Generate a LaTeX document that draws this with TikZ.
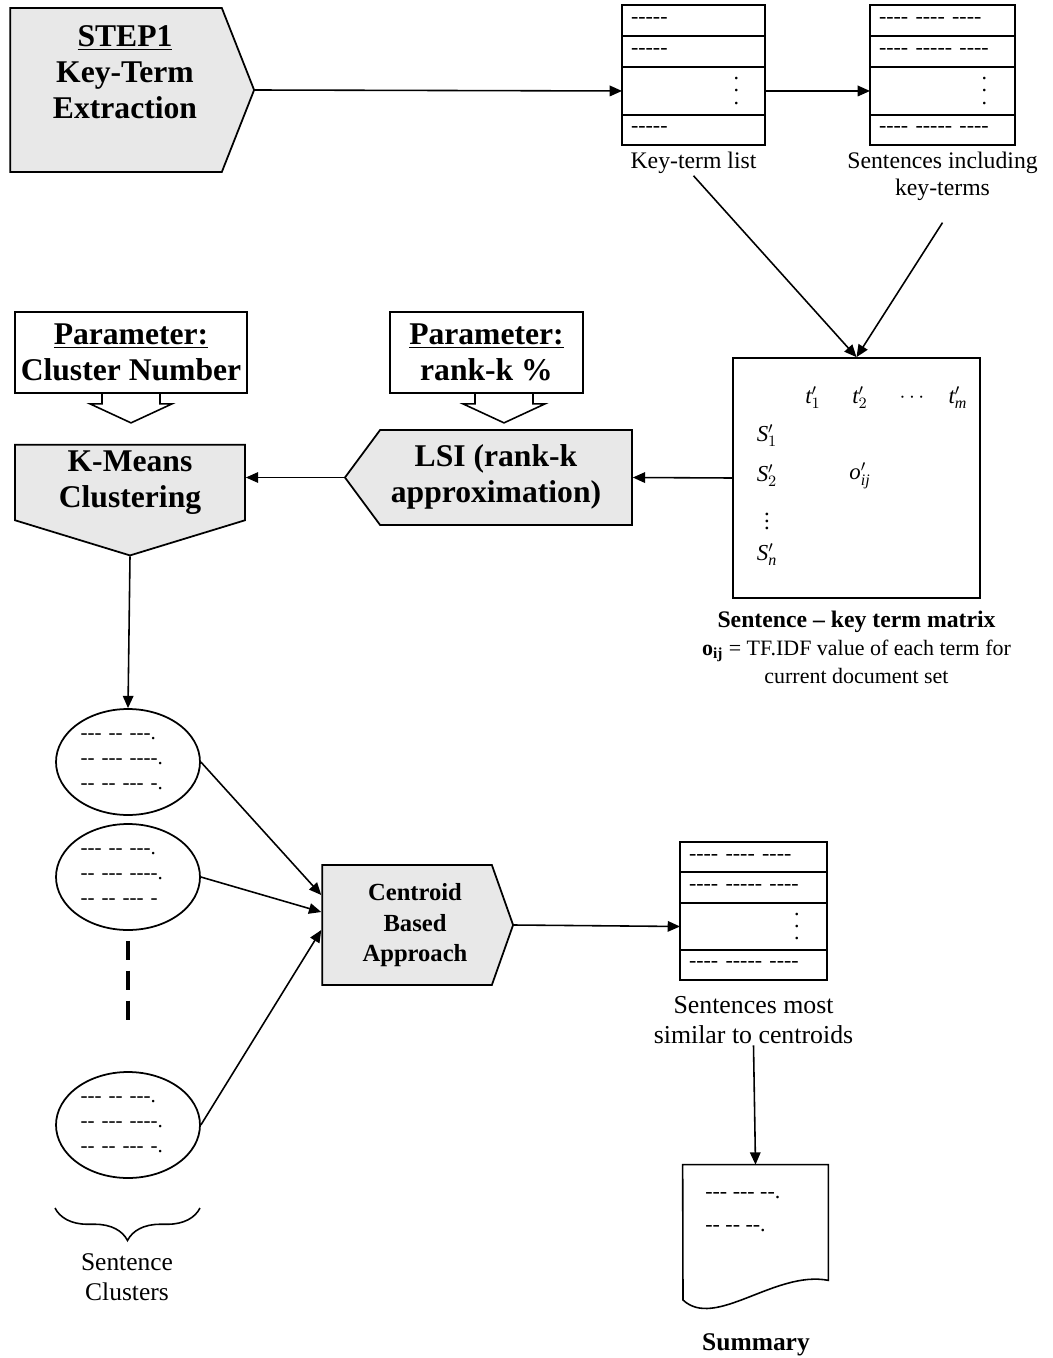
\documentclass[tikz,border=0pt]{standalone}
\usepackage{fontspec}
\setmainfont{Liberation Serif}
\newfontfamily\dashfont{Liberation Serif}[Ligatures=TeXOff]
\usepackage{tikz}
\usetikzlibrary{arrows.meta, positioning, shapes.geometric, shapes.symbols, decorations.pathreplacing}
\definecolor{ProcGray}{HTML}{E8E8E8}
\newcommand{\bigvdots}{\vbox{\baselineskip7pt\lineskiplimit0pt\hbox{.}\hbox{.}\hbox{.}}}

\begin{document}
\begin{tikzpicture}[x=0.02cm, y=-0.02cm,
    proc/.style={shape=signal, draw, fill=ProcGray, line width=1pt, inner sep=1pt, font=\fontsize{18}{20.5}\selectfont\bfseries},
    param/.style={draw, line width=1pt, align=center, inner sep=1pt, minimum height=1.62cm, font=\fontsize{18}{20.5}\selectfont\bfseries},
    cell/.style={draw, line width=1pt, outer sep=0pt, inner xsep=0.18cm, inner ysep=0pt, align=left, font=\dashfont\fontsize{12.5}{14}\selectfont},
    clus/.style={ellipse, draw, line width=1pt, minimum width=2.88cm, minimum height=2.12cm, inner sep=0pt, text width=1.9cm, align=left, font=\dashfont\fontsize{12}{14.2}\selectfont},
    captxt/.style={align=center, inner sep=1pt, fill=white, font=\fontsize{13.5}{15.3}\selectfont},
    mel/.style={inner sep=0pt, font=\fontsize{13}{15}\selectfont},
    arr/.style={-{Triangle[length=7pt, width=6pt]}, line width=0.9pt},
    ln/.style={line width=0.9pt}
]
\useasboundingbox (0,0) rectangle (1053,1358);

% Step 1
\node[proc, signal to=east, signal pointer angle=137, minimum width=4.88cm, minimum height=3.28cm] (step1) at (116,90)
  {\hspace*{0.36cm}\begin{tabular}{@{}c@{}}\underline{STEP1}\\Key-Term\\Extraction\\[-4pt]{}\end{tabular}};

% Key-term list
\node[cell, text width=2.5cm, minimum height=0.62cm] (kl1) at (693.5,20.5) {-----};
\node[cell, text width=2.5cm, minimum height=0.62cm, below=0pt of kl1] (kl2) {-----};
\node[cell, text width=2.5cm, minimum height=0.96cm, below=0pt of kl2] (kl3) {\hspace*{2.05cm}\bigvdots};
\node[cell, text width=2.5cm, minimum height=0.6cm, below=0pt of kl3] (kl4) {-----};
\node[captxt, below=0.1cm of kl4] (kcap) {Key-term list};

% Sentences including key-terms
\node[cell, text width=2.54cm, minimum height=0.62cm] (sl1) at (942.5,20.5) {---- ---- ----};
\node[cell, text width=2.54cm, minimum height=0.62cm, below=0pt of sl1] (sl2) {---- ----- ----};
\node[cell, text width=2.54cm, minimum height=0.96cm, below=0pt of sl2] (sl3) {\hspace*{2.05cm}\bigvdots};
\node[cell, text width=2.54cm, minimum height=0.6cm, below=0pt of sl3] (sl4) {---- ----- ----};
\node[captxt, below=0.1cm of sl4] (scap) {Sentences including\\key-terms};

\draw[arr] (step1.east) -- (kl3.west);
\draw[arr] (kl3.east) -- (sl3.west);

% Sentence - key term matrix
\node[draw, line width=1pt, minimum width=4.94cm, minimum height=4.8cm] (mat) at (856.5,478) {};
\node[mel] (t1) at (813,398) {$\mathit{t}_{1}^{\prime}$};
\node[mel] (t2) at (860,398) {$\mathit{t}_{2}^{\prime}$};
\node[mel] (tdots) at (912,398) {$\cdots$};
\node[mel] (tm) at (958,398) {$\mathit{t}_{\mathit{m}}^{\prime}$};
\node[mel] (s1) at (767,436) {$\mathit{S}_{1}^{\prime}$};
\node[mel] (s2) at (767,476) {$\mathit{S}_{2}^{\prime}$};
\node[mel] (sdots) at (767,516) {$\vdots$};
\node[mel] (sn) at (767,555) {$\mathit{S}_{\mathit{n}}^{\prime}$};
\node[mel] (oij) at (860,476) {$\mathit{o}_{\mathit{ij}}^{\prime}$};
\node[captxt, below=0.2cm of mat, font=\fontsize{12.5}{16}\selectfont] (mcap) {{\bfseries\fontsize{13.5}{16}\selectfont Sentence -- key term matrix}\\\textbf{o}\textsubscript{\textbf{ij}} = TF.IDF value of each term for\\current document set};

\draw[arr] (kcap.south) -- (mat.north);
\draw[arr] ([yshift=-0.4cm]scap.south) -- (mat.north);

% Parameters
\node[param, minimum width=4.64cm] (pcl) at (131,352.5) {\underline{Parameter:}\\Cluster Number};
\node[param, minimum width=3.86cm] (prk) at (486.5,352.5) {\underline{Parameter:}\\rank-k \%};
\draw[ln] (pcl.south) ++(-29,0) -- ++(0,10) -- ++(-12,0) -- ++(41,19) -- ++(41,-19) -- ++(-12,0) -- ++(0,-10);
\draw[ln] ([xshift=0.35cm]prk.south) ++(-29,0) -- ++(0,10) -- ++(-12,0) -- ++(41,19) -- ++(41,-19) -- ++(-12,0) -- ++(0,-10);

% K-Means and LSI
\node[proc, signal to=south, signal pointer angle=146, minimum width=4.6cm, minimum height=1.93cm] (km) at (130,482.5)
  {\begin{tabular}{@{}c@{}}K-Means\\Clustering\end{tabular}};
\node[proc, signal to=west, signal pointer angle=107, minimum width=5.74cm, minimum height=1.9cm] (lsi) at (506,477.5)
  {\begin{tabular}{@{}c@{}}LSI (rank-k\\approximation)\end{tabular}\hspace*{0.4cm}};

\draw[arr] (mat.west) -- (lsi.east);
\draw[arr] (lsi.west) -- (lsi.west -| km.east);

% Sentence clusters
\node[clus] (c1) at (128,762) {--- -- ---.\\-- --- ----.\\-- -- --- -.};
\node[clus] (c2) at (128,877) {--- -- ---.\\-- --- ----.\\-- -- --- -};
\node[clus] (c3) at (128,1125) {--- -- ---.\\-- --- ----.\\-- -- --- -.};
\draw[arr] (km.south) -- (c1.north);
\draw[line width=2.3pt, dash pattern=on 11pt off 6pt] ([yshift=-0.2cm]c2.south) -- ([yshift=0.84cm]c3.north);

\coordinate (bl) at (55,1208);
\coordinate (br) at (200,1208);
\draw[ln, decorate, decoration={brace, mirror, amplitude=0.65cm}] (bl) -- (br);
\node[captxt, font=\fontsize{14.5}{17}\selectfont] (clcap) at (127,1277) {Sentence\\Clusters};

% Centroid
\node[proc, signal to=east, signal pointer angle=141, minimum width=3.82cm, minimum height=2.4cm, font=\fontsize{14}{17.5}\selectfont\bfseries] (cen) at (407,925)
  {\hspace*{0.32cm}\begin{tabular}{@{}c@{}}Centroid\\Based\\Approach\end{tabular}};
\draw[arr] (c1.east) -- ([yshift=0.6cm]cen.west);
\draw[arr] (c2.east) -- ([yshift=0.26cm]cen.west);
\draw[arr] (c3.east) -- ([yshift=-0.1cm]cen.west);

% Sentences most similar to centroids
\node[cell, text width=2.58cm, minimum height=0.6cm] (ol1) at (753.5,857) {---- ---- ----};
\node[cell, text width=2.58cm, minimum height=0.62cm, below=0pt of ol1] (ol2) {---- ----- ----};
\node[cell, text width=2.58cm, minimum height=0.94cm, below=0pt of ol2] (ol3) {\hspace*{2.1cm}\bigvdots};
\node[cell, text width=2.58cm, minimum height=0.6cm, below=0pt of ol3] (ol4) {---- ----- ----};
\node[captxt, below=0.28cm of ol4, font=\fontsize{14.7}{17}\selectfont] (ocap) {Sentences most\\similar to centroids};
\draw[arr] (cen.east) -- (ol3.west);

% Summary
\node[minimum width=2.9cm, minimum height=2.3cm, inner sep=0pt] (summ) at (755.5,1222.5) {};
\draw[ln] (summ.north west) -- (summ.north east) -- (summ.south east) .. controls (775,1270) and (715,1330) .. (683,1300) -- cycle;
\node[anchor=west, align=left, inner sep=0pt, font=\dashfont\fontsize{12.5}{18.7}\selectfont] (stxt) at (705,1212) {--- --- --.\\-- -- --.};
\draw[arr] (ocap.south) -- (summ.north);
\node[font=\fontsize{14.5}{17}\selectfont\bfseries] (stitle) at (756,1345) {Summary};
\end{tikzpicture}
\end{document}
